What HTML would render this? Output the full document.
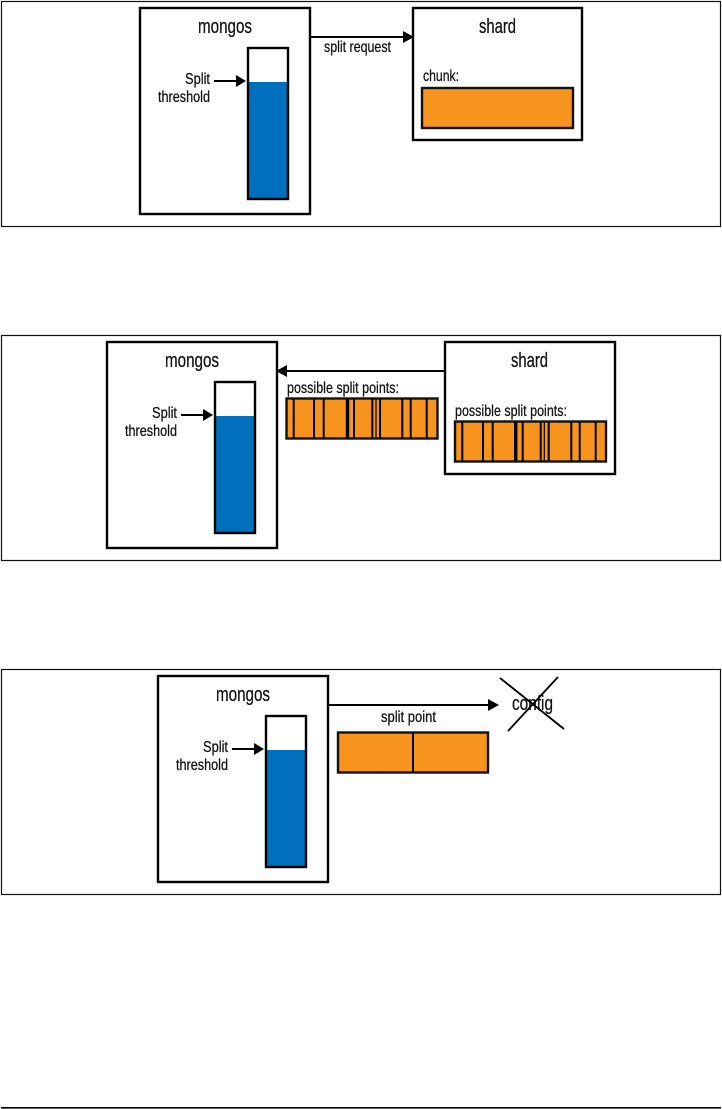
<!DOCTYPE html>
<html><head><meta charset="utf-8"><style>
html,body{margin:0;padding:0;background:#fff;width:722px;height:1109px;overflow:hidden}
svg{display:block;filter:blur(.3px)}
text{font-family:"Liberation Sans Narrow","Liberation Sans",sans-serif;fill:#111;stroke:#111;stroke-width:.25px}
.b{fill:none;stroke:#000;stroke-width:2.4}
.f{fill:none;stroke:#111;stroke-width:1.2}
.l{font-size:20px}.s{font-size:16px}
.o{fill:#f7941e;stroke:#111;stroke-width:2.4}
.k{stroke:#000;fill:none}
</style></head><body>
<svg width="722" height="1109" viewBox="0 0 722 1109" xmlns="http://www.w3.org/2000/svg">
<rect class="f" x="1.5" y="1.5" width="719" height="225"/>
<rect class="f" x="1.5" y="335.5" width="719" height="225"/>
<rect class="f" x="1.5" y="669.5" width="719" height="225"/>
<line x1="1" y1="1107.800" x2="721" y2="1107.800" stroke="#000" stroke-width="1.600"/>

<!-- Diagram 1 -->
<rect class="b" x="140" y="8" width="170" height="206"/>
<text class="l" x="198" y="33" textLength="54" lengthAdjust="spacingAndGlyphs">mongos</text>
<rect x="248" y="82" width="40" height="117" fill="#0070bc"/>
<rect class="b" x="248" y="48" width="40" height="151"/>
<text class="s" x="185" y="84" textLength="25" lengthAdjust="spacingAndGlyphs">Split</text>
<text class="s" x="158" y="102" textLength="52" lengthAdjust="spacingAndGlyphs">threshold</text>
<line class="k" x1="214" y1="81" x2="238" y2="81" stroke-width="2"/>
<polygon points="236,75 246,81 236,87" fill="#000"/>
<line class="k" x1="310" y1="37" x2="404" y2="37" stroke-width="2"/>
<polygon points="403,31 414,37 403,43" fill="#000"/>
<text class="s" x="324" y="52" textLength="67" lengthAdjust="spacingAndGlyphs">split request</text>
<rect class="b" x="413" y="8" width="169" height="132"/>
<text class="l" x="479" y="33" textLength="37" lengthAdjust="spacingAndGlyphs">shard</text>
<text class="s" x="423" y="81" textLength="36" lengthAdjust="spacingAndGlyphs">chunk:</text>
<rect class="o" x="422" y="88" width="151" height="40"/>

<!-- Diagram 2 -->
<rect class="b" x="107" y="342" width="170" height="206"/>
<text class="l" x="165" y="367" textLength="54" lengthAdjust="spacingAndGlyphs">mongos</text>
<rect x="215" y="416" width="40" height="117" fill="#0070bc"/>
<rect class="b" x="215" y="382" width="40" height="151"/>
<text class="s" x="152" y="418" textLength="25" lengthAdjust="spacingAndGlyphs">Split</text>
<text class="s" x="125" y="436" textLength="52" lengthAdjust="spacingAndGlyphs">threshold</text>
<line class="k" x1="181" y1="415" x2="205" y2="415" stroke-width="2"/>
<polygon points="203,409 213,415 203,421" fill="#000"/>
<line class="k" x1="445" y1="371" x2="286" y2="371" stroke-width="2"/>
<polygon points="287,365 276,371 287,377" fill="#000"/>
<text class="s" x="287" y="393" textLength="112" lengthAdjust="spacingAndGlyphs">possible split points:</text>
<rect class="o" x="286.500" y="398.500" width="151" height="40"/>
<g stroke="#000" stroke-width="2">
<line x1="293.700" y1="399" x2="293.700" y2="438"/><line x1="314" y1="399" x2="314" y2="438"/><line x1="323.700" y1="399" x2="323.700" y2="438"/>
<line x1="347.500" y1="399" x2="347.500" y2="438" stroke-width="3.400"/><line x1="354" y1="399" x2="354" y2="438"/><line x1="372.300" y1="399" x2="372.300" y2="438"/>
<line x1="376" y1="399" x2="376" y2="438" stroke-width="1.200"/><line x1="380" y1="399" x2="380" y2="438"/><line x1="402.300" y1="399" x2="402.300" y2="438"/>
<line x1="410.700" y1="399" x2="410.700" y2="438"/><line x1="426.700" y1="399" x2="426.700" y2="438"/>
</g>
<rect class="b" x="445" y="342" width="170" height="132"/>
<text class="l" x="511" y="367" textLength="37" lengthAdjust="spacingAndGlyphs">shard</text>
<text class="s" x="455" y="416" textLength="112" lengthAdjust="spacingAndGlyphs">possible split points:</text>
<rect class="o" x="455" y="421.500" width="151" height="40"/>
<g stroke="#000" stroke-width="2">
<line x1="462.300" y1="422" x2="462.300" y2="461"/><line x1="483" y1="422" x2="483" y2="461"/><line x1="492.700" y1="422" x2="492.700" y2="461"/>
<line x1="515.700" y1="422" x2="515.700" y2="461" stroke-width="3.400"/><line x1="522.700" y1="422" x2="522.700" y2="461"/><line x1="540.700" y1="422" x2="540.700" y2="461"/>
<line x1="544.300" y1="422" x2="544.300" y2="461" stroke-width="1.200"/><line x1="548.700" y1="422" x2="548.700" y2="461"/><line x1="571.300" y1="422" x2="571.300" y2="461"/>
<line x1="579.700" y1="422" x2="579.700" y2="461"/><line x1="595.700" y1="422" x2="595.700" y2="461"/>
</g>

<!-- Diagram 3 -->
<rect class="b" x="158" y="676" width="170" height="206"/>
<text class="l" x="216" y="701" textLength="54" lengthAdjust="spacingAndGlyphs">mongos</text>
<rect x="266" y="750" width="40" height="117" fill="#0070bc"/>
<rect class="b" x="266" y="716" width="40" height="151"/>
<text class="s" x="203" y="752" textLength="25" lengthAdjust="spacingAndGlyphs">Split</text>
<text class="s" x="176" y="770" textLength="52" lengthAdjust="spacingAndGlyphs">threshold</text>
<line class="k" x1="232" y1="749" x2="256" y2="749" stroke-width="2"/>
<polygon points="254,743 264,749 254,755" fill="#000"/>
<line class="k" x1="328" y1="705" x2="489" y2="705" stroke-width="2"/>
<polygon points="488,699 499,705 488,711" fill="#000"/>
<text class="s" x="381" y="722" textLength="55" lengthAdjust="spacingAndGlyphs">split point</text>
<rect class="o" x="338" y="732.500" width="150" height="40"/>
<line x1="413" y1="733" x2="413" y2="773" stroke="#000" stroke-width="2"/>
<text class="l" x="512" y="710" textLength="41" lengthAdjust="spacingAndGlyphs">config</text>
<line class="k" x1="500" y1="678" x2="564" y2="729" stroke-width="1.800"/>
<line class="k" x1="558" y1="677" x2="508" y2="731" stroke-width="1.800"/>
</svg>
</body></html>
